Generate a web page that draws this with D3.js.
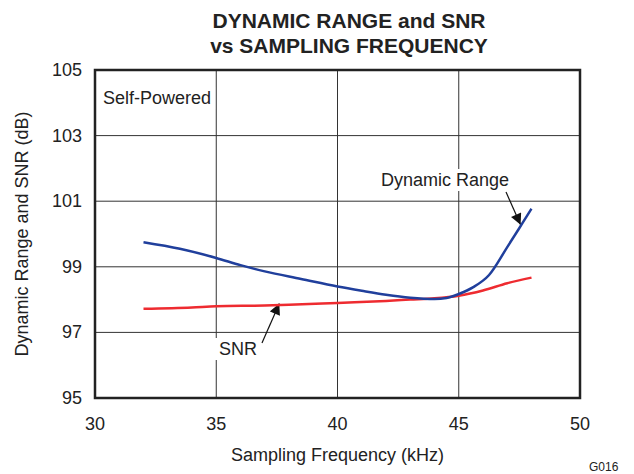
<!DOCTYPE html>
<html>
<head>
    <title>Dynamic Range and SNR vs Sampling Frequency</title>
    <script src="https://d3js.org/d3.v7.min.js"></script>
    <style>
        body { margin: 0; background: #fff; }
        text { font-family: Arial, "Liberation Sans", sans-serif; fill: #222; }
    </style>
</head>
<body>
<div id="chart"></div>
<script>
    // data
    const xTicks = [30, 35, 40, 45, 50];
    const yTicks = [95, 97, 99, 101, 103, 105];

    const drFreq = [32, 33.5, 35, 36, 37, 38.5, 40, 41, 42, 43, 44, 44.5, 45, 45.6, 46.25, 47, 47.6, 48];
    const drValue = [99.75, 99.55, 99.27, 99.05, 98.86, 98.63, 98.4, 98.27, 98.15, 98.06, 98.02, 98.05, 98.17, 98.38, 98.75, 99.6, 100.3, 100.77];

    const snrFreq = [32, 34, 35, 37, 38, 40, 42, 43, 44, 45, 46, 47, 48];
    const snrValue = [97.72, 97.76, 97.8, 97.82, 97.84, 97.9, 97.96, 98.0, 98.04, 98.12, 98.28, 98.5, 98.67];

    const width = 634, height = 474;
    const margin = { left: 95, right: 54, top: 70, bottom: 76 };
    const fontSize = "18px";

    const svg = d3.select("#chart").append("svg")
        .attr("width", width)
        .attr("height", height);

    const x = d3.scaleLinear().domain([30, 50]).range([margin.left, width - margin.right]);
    const y = d3.scaleLinear().domain([95, 105]).range([height - margin.bottom, margin.top]);

    // grid
    svg.append("g").selectAll("line").data(xTicks.slice(1, -1)).join("line")
        .attr("x1", d => x(d)).attr("x2", d => x(d))
        .attr("y1", y(95)).attr("y2", y(105))
        .attr("stroke", "#333").attr("stroke-width", 1);
    svg.append("g").selectAll("line").data(yTicks.slice(1, -1)).join("line")
        .attr("x1", x(30)).attr("x2", x(50))
        .attr("y1", d => y(d)).attr("y2", d => y(d))
        .attr("stroke", "#333").attr("stroke-width", 1);

    // tick labels
    svg.append("g").selectAll("text").data(xTicks).join("text")
        .attr("x", d => x(d)).attr("y", y(95) + 32)
        .attr("text-anchor", "middle")
        .style("font-size", fontSize)
        .text(d => d);
    svg.append("g").selectAll("text").data(yTicks).join("text")
        .attr("x", x(30) - 13).attr("y", d => y(d) + 6)
        .attr("text-anchor", "end")
        .style("font-size", fontSize)
        .text(d => d);

    // annotation label with white background
    function label(txt, lx, ly) {
        const g = svg.append("g");
        const r = g.append("rect").attr("fill", "#fff");
        const t = g.append("text").attr("x", lx).attr("y", ly)
            .style("font-size", fontSize).text(txt);
        const b = t.node().getBBox();
        r.attr("x", b.x - 4).attr("y", b.y - 1)
            .attr("width", b.width + 8).attr("height", b.height + 2);
    }
    label("Self-Powered", 103, 104);
    label("Dynamic Range", 381, 186);
    label("SNR", 219, 355);

    // arrows
    svg.append("defs").append("marker")
        .attr("id", "arrow")
        .attr("viewBox", "0 0 10 10")
        .attr("refX", 10).attr("refY", 5)
        .attr("markerWidth", 13).attr("markerHeight", 11)
        .attr("markerUnits", "userSpaceOnUse")
        .attr("orient", "auto")
        .append("path").attr("d", "M 0 0 L 10 5 L 0 10 z").attr("fill", "#111");

    svg.append("line")
        .attr("x1", 506).attr("y1", 192).attr("x2", x(47.55)).attr("y2", y(100.28))
        .attr("stroke", "#111").attr("stroke-width", 1.2)
        .attr("marker-end", "url(#arrow)");
    svg.append("line")
        .attr("x1", 262).attr("y1", 343).attr("x2", x(37.6)).attr("y2", y(97.88))
        .attr("stroke", "#111").attr("stroke-width", 1.2)
        .attr("marker-end", "url(#arrow)");

    const line = d3.line().curve(d3.curveMonotoneX);

    svg.append("path")
        .attr("d", line(snrFreq.map((f, i) => [x(f), y(snrValue[i])])))
        .attr("fill", "none").attr("stroke", "#ee2b30").attr("stroke-width", 2.5);
    svg.append("path")
        .attr("d", line(drFreq.map((f, i) => [x(f), y(drValue[i])])))
        .attr("fill", "none").attr("stroke", "#203f9c").attr("stroke-width", 2.5);

    // frame
    svg.append("rect")
        .attr("x", x(30)).attr("y", y(105))
        .attr("width", x(50) - x(30)).attr("height", y(95) - y(105))
        .attr("fill", "none").attr("stroke", "#222").attr("stroke-width", 2.5);

    // titles
    svg.append("text").attr("x", 349).attr("y", 28)
        .attr("text-anchor", "middle")
        .style("font-size", "21px").style("font-weight", "bold")
        .text("DYNAMIC RANGE and SNR");
    svg.append("text").attr("x", 349).attr("y", 53)
        .attr("text-anchor", "middle")
        .style("font-size", "21px").style("font-weight", "bold")
        .text("vs SAMPLING FREQUENCY");

    svg.append("text")
        .attr("x", x(40)).attr("y", 461)
        .attr("text-anchor", "middle")
        .style("font-size", fontSize)
        .text("Sampling Frequency (kHz)");
    svg.append("text")
        .attr("transform", `translate(28, ${(y(95) + y(105)) / 2}) rotate(-90)`)
        .attr("text-anchor", "middle")
        .style("font-size", fontSize)
        .text("Dynamic Range and SNR (dB)");

    svg.append("text")
        .attr("x", 589).attr("y", 471)
        .style("font-size", "12px")
        .text("G016");
</script>
</body>
</html>
